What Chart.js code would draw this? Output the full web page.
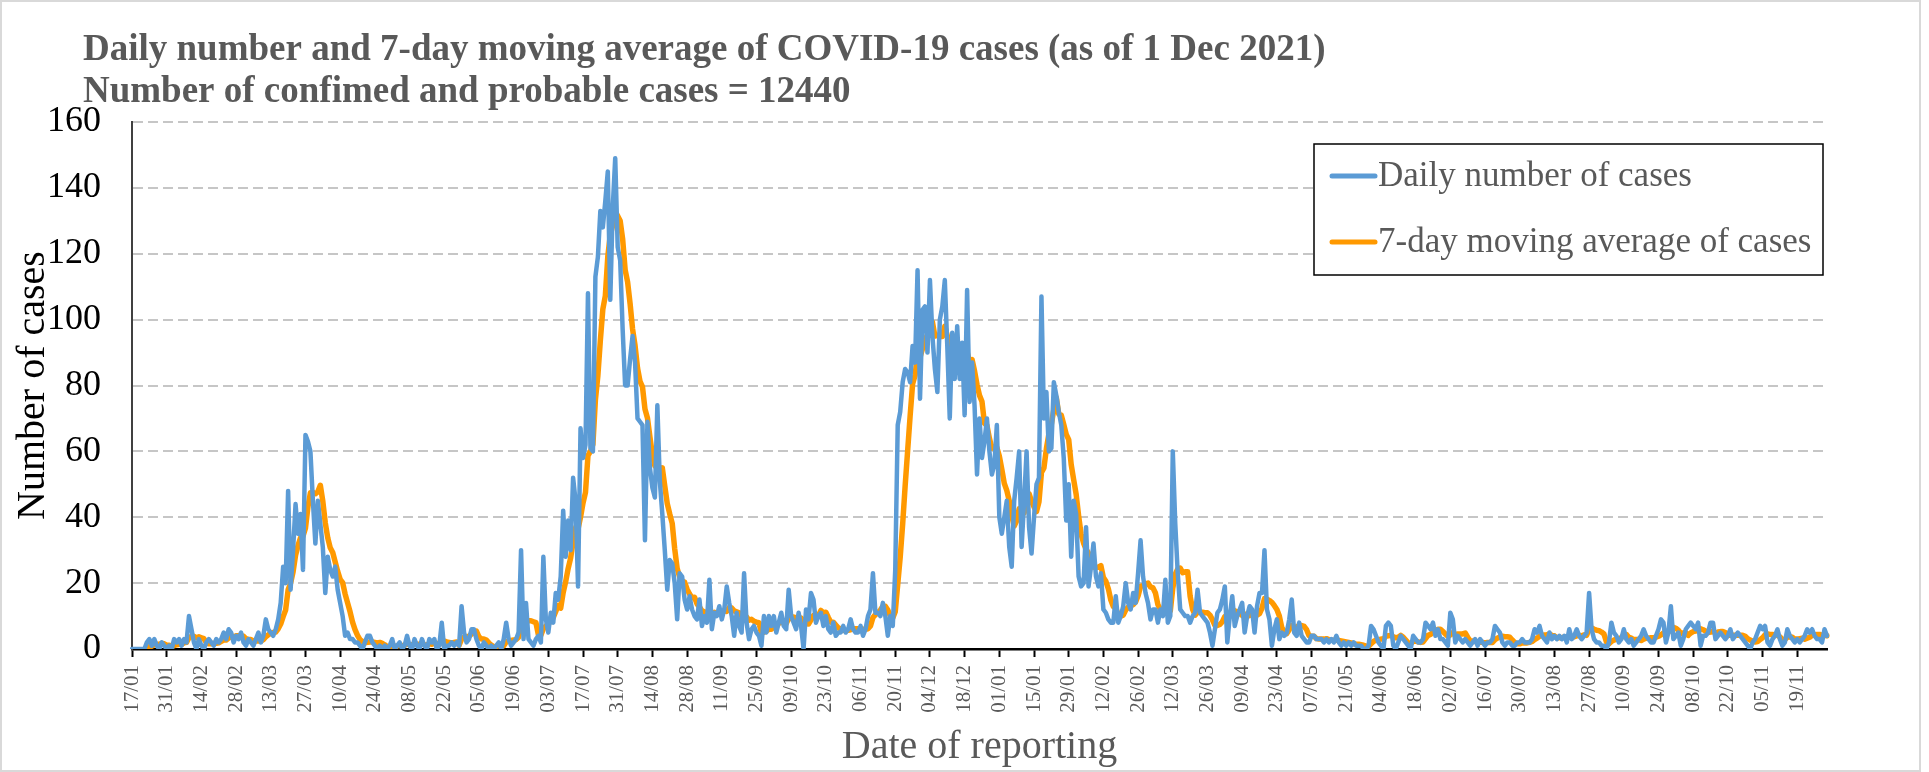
<!DOCTYPE html>
<html>
<head>
<meta charset="utf-8">
<title>COVID-19 daily cases</title>
<script src="https://cdn.jsdelivr.net/npm/chart.js@4.4.0/dist/chart.umd.min.js"></script>
<style>
  body { margin: 0; background: #fff; }
  #app { width: 1929px; height: 772px; }
</style>
</head>
<body>
<div id="app"><canvas id="mychart" width="1929" height="772"></canvas></div>
<script>
const titleLines = [
  "Daily number and 7-day moving average of COVID-19 cases (as of 1 Dec 2021)",
  "Number of confimed and probable cases = 12440"
];
const seriesNames = ["Daily number of cases", "7-day moving average of cases"];
const firstDay = [2020, 0, 17];   // 17/01/2020
const tickStep = 14;              // one date label every two weeks
const yTicks = [0, 20, 40, 60, 80, 100, 120, 140, 160];

// daily cases, one line per two weeks (first date in the comment)
const cases2020 = [
  0,0,0,0,0,0,2,3,1,3,1,0,2,1,              // 17/01
  0,1,0,3,2,3,1,3,2,10,6,2,0,3,             // 31/01
  1,0,2,3,2,1,3,2,3,5,3,6,5,2,              // 14/02
  4,3,5,2,1,3,2,1,3,5,2,4,9,6,              // 28/02
  5,4,6,9,14,25,20,48,18,30,44,35,41,24,    // 13/03
  65,63,60,45,32,45,38,31,17,28,24,22,25,18,// 27/03
  14,10,4,5,3,3,2,2,1,0,2,4,4,2,            // 10/04
  1,0,1,0,1,0,1,3,0,1,2,0,1,4,              // 24/04
  1,0,3,1,0,3,1,0,3,2,3,0,1,8,              // 08/05
  0,1,1,2,1,2,1,13,5,2,3,6,6,3,             // 22/05
  1,0,2,1,0,1,0,1,2,0,3,8,3,1,              // 05/06
  2,3,5,30,3,14,3,2,1,3,4,2,28,9,           // 19/06
  5,11,8,17,15,22,42,28,39,30,52,45,19,67,  // 03/07
  58,62,108,61,60,113,119,133,128,136,145,106,134,149, // 17/07
  122,118,97,80,80,88,95,87,70,69,68,33,69,55,          // 31/07
  49,46,74,51,41,30,18,27,26,20,9,23,22,15, // 14/08
  12,16,12,10,9,15,7,10,8,21,6,11,10,13,    // 28/08
  9,12,19,14,10,4,11,7,5,23,8,3,6,7,        // 11/09
  5,4,1,10,5,10,7,10,5,8,11,7,6,18,         // 25/09
  10,8,6,11,7,0,12,9,17,15,8,10,11,7,       // 09/10
  10,6,5,8,4,5,5,7,5,6,9,6,5,5,             // 23/10
  7,4,6,10,12,23,11,11,10,14,10,4,10,7,     // 06/11
  24,68,72,81,85,84,81,92,87,115,76,103,104,90,  // 20/11
  112,95,85,78,100,104,112,92,70,96,82,98,82,93, // 04/12
  71,109,75,87,74,53,70,58,63,70,60,53,56,68     // 18/12
];
const cases2021 = [
  40,35,40,45,31,25,45,52,60,31,45,60,37,29,     // 01/01
  40,50,52,107,70,78,60,61,81,77,72,68,58,39,    // 15/01
  50,28,45,41,22,19,20,37,19,25,32,22,19,23,     // 29/01
  12,11,9,8,8,16,8,10,13,20,14,12,17,14,         // 12/02
  23,33,22,17,14,9,12,12,8,12,10,21,8,10,        // 26/02
  60,38,23,12,11,10,10,8,10,11,18,11,10,9,       // 12/03
  8,5,1,6,11,12,15,19,2,10,16,7,10,12,           // 26/03
  14,5,10,13,12,5,13,17,17,30,12,9,1,6,          // 09/04
  9,3,5,4,5,9,15,5,4,8,4,3,2,2,                  // 23/04
  4,4,3,3,3,2,3,2,3,2,4,2,1,2,                   // 07/05
  1,2,1,2,1,1,1,0,0,1,7,6,4,2,                   // 21/05
  1,0,7,8,7,1,0,2,4,3,2,1,0,4,                   // 04/06
  3,2,2,3,8,7,6,8,4,6,3,3,2,1,                   // 18/06
  11,9,2,4,3,2,3,2,1,2,3,1,3,2,                  // 02/07
  1,2,2,3,7,6,5,2,1,2,2,1,1,2,                   // 16/07
  2,3,2,2,2,3,6,5,7,4,3,2,5,3,                   // 30/07
  4,3,4,3,4,2,6,3,4,6,4,3,4,5,                   // 13/08
  17,6,3,2,2,1,1,0,2,8,5,4,2,3,                  // 27/08
  6,3,2,3,1,2,3,4,6,4,3,2,2,4,                   // 10/09
  6,9,8,2,5,13,3,4,5,1,3,6,7,8,                  // 24/09
  7,6,8,1,4,4,5,8,8,3,4,5,4,3,                   // 08/10
  4,6,3,4,5,4,3,2,1,0,2,3,5,7,                   // 22/10
  6,7,2,1,3,4,6,3,1,2,6,4,3,2,                   // 05/11
  3,2,3,4,6,5,6,4,3,3,2,6,4                      // 19/11 - 01/12
];

const dailyCases = cases2020.concat(cases2021);

// dd/mm labels, one per day
const dateLabels = dailyCases.map((v, i) => {
  const d = new Date(firstDay[0], firstDay[1], firstDay[2] + i);
  return String(d.getDate()).padStart(2, "0") + "/" + String(d.getMonth() + 1).padStart(2, "0");
});

// trailing 7-day mean
const movingAverage = dailyCases.map((v, i) => {
  if (i < 6) return null;
  let s = 0;
  for (let k = i - 6; k <= i; k++) s += dailyCases[k];
  return s / 7;
});

const serif = "'Liberation Serif', 'Times New Roman', serif";

const frameAndText = {
  id: "frameAndText",
  beforeDraw(chart) {
    const ctx = chart.ctx;
    ctx.save();
    ctx.fillStyle = "#fff";
    ctx.fillRect(0, 0, chart.width, chart.height);
    ctx.strokeStyle = "#d9d9d9";
    ctx.lineWidth = 2;
    ctx.strokeRect(1, 1, chart.width - 10, chart.height - 2);
    ctx.restore();
  },
  afterDraw(chart) {
    const ctx = chart.ctx;
    ctx.save();
    // title
    ctx.fillStyle = "#595959";
    ctx.font = "bold 37px " + serif;
    ctx.textBaseline = "alphabetic";
    ctx.fillText(titleLines[0], 83, 60);
    ctx.fillText(titleLines[1], 83, 102);
    // legend
    const bx = 1314, by = 144, bw = 509, bh = 131;
    ctx.fillStyle = "#fff";
    ctx.fillRect(bx, by, bw, bh);
    ctx.strokeStyle = "#000";
    ctx.lineWidth = 1.5;
    ctx.strokeRect(bx, by, bw, bh);
    ctx.font = "35px " + serif;
    ctx.textBaseline = "middle";
    chart.data.datasets.forEach((ds, i) => {
      const y = 176 + i * 66;
      ctx.strokeStyle = ds.borderColor;
      ctx.lineWidth = 5;
      ctx.lineCap = "round";
      ctx.beginPath();
      ctx.moveTo(1332, y);
      ctx.lineTo(1375, y);
      ctx.stroke();
      ctx.fillStyle = "#595959";
      ctx.fillText(ds.label, 1378, y + 1);
    });
    ctx.restore();
  }
};

new Chart(document.getElementById("mychart"), {
  type: "line",
  data: {
    labels: dateLabels,
    datasets: [
      {
        label: seriesNames[0],
        data: dailyCases,
        borderColor: "#5b9bd5",
        borderWidth: 4.5,
        pointRadius: 0,
        tension: 0,
        borderJoinStyle: "round",
        borderCapStyle: "round"
      },
      {
        label: seriesNames[1],
        data: movingAverage,
        borderColor: "#ff9900",
        borderWidth: 5.5,
        pointRadius: 0,
        tension: 0,
        borderJoinStyle: "round",
        borderCapStyle: "round"
      }
    ]
  },
  options: {
    responsive: false,
    animation: false,
    devicePixelRatio: 1,
    layout: { padding: { top: 122, right: 102, bottom: 0, left: 0 } },
    plugins: {
      legend: { display: false },
      title: { display: false },
      tooltip: { enabled: false }
    },
    scales: {
      x: {
        offset: false,
        afterFit: s => { s.height = 123; },
        afterBuildTicks: s => { s.ticks = s.ticks.filter(t => t.value % tickStep === 0); },
        grid: { display: true, drawOnChartArea: false, drawTicks: true, tickLength: 8, tickColor: "#000", tickWidth: 2 },
        border: { display: true, color: "#000", width: 2.5 },
        ticks: {
          autoSkip: false,
          minRotation: 90,
          maxRotation: 90,
          padding: 8,
          color: "#595959",
          font: { family: serif, size: 21 }
        },
        title: {
          display: true,
          text: "Date of reporting",
          color: "#595959",
          font: { family: serif, size: 40 },
          padding: { top: 0, bottom: 1 }
        }
      },
      y: {
        min: 0,
        max: 160,
        afterFit: s => { s.width = 132; },
        afterBuildTicks: s => { s.ticks = yTicks.map(v => ({ value: v })); },
        grid: { color: "#c6c6c6", lineWidth: 2, drawTicks: false },
        border: { display: true, color: "#404040", width: 2, dash: [10, 5] },
        ticks: {
          padding: 31,
          color: "#000",
          font: { family: serif, size: 36 }
        },
        title: {
          display: true,
          text: "Number of cases",
          color: "#000",
          font: { family: serif, size: 40 },
          padding: { top: 9, bottom: 0 }
        }
      }
    }
  },
  plugins: [frameAndText]
});
</script>
</body>
</html>
